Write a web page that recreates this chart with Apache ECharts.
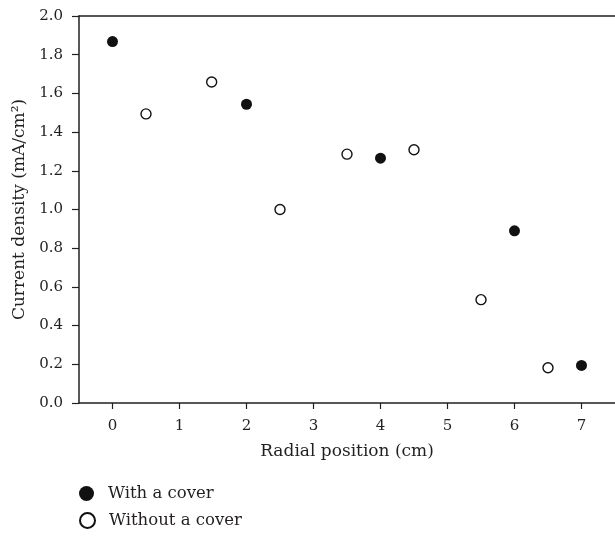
<!DOCTYPE html>
<html>
<head>
<meta charset="utf-8">
<script src="https://cdn.jsdelivr.net/npm/echarts@6/dist/echarts.min.js"></script>
<style>
  html, body { margin: 0; padding: 0; background: #fff; }
  #main { width: 615px; height: 536px; }
</style>
</head>
<body>
<div id="main"></div>
<script>
// data
var withCoverX = [0, 2, 4, 6, 7];
var withCoverY = [1.868, 1.544, 1.265, 0.89, 0.194];
var withoutCoverX = [0.5, 1.48, 2.5, 3.5, 4.5, 5.5, 6.5];
var withoutCoverY = [1.494, 1.659, 1.0, 1.286, 1.309, 0.534, 0.182];
var xTicks = [0, 1, 2, 3, 4, 5, 6, 7];

var ink = '#231f20';
var font = 'DejaVu Serif';

function pairs(xs, ys) {
  var out = [];
  for (var i = 0; i < xs.length; i++) out.push([xs[i], ys[i]]);
  return out;
}

// one legend per row, stacked under the plot
function legendRow(name, top) {
  return {
    left: 79,
    top: top,
    padding: 0,
    itemWidth: 15,
    itemHeight: 15,
    icon: 'circle',
    textStyle: { fontFamily: font, fontSize: 16.5, color: ink, padding: [0, 0, 0, 9] },
    data: [name]
  };
}

var chart = echarts.init(document.getElementById('main'));
chart.setOption({
  animation: false,
  textStyle: { fontFamily: font, color: ink },
  grid: { left: 79, right: -2, top: 16, bottom: 133 },
  legend: [legendRow('With a cover', 485), legendRow('Without a cover', 512)],
  xAxis: [{
    type: 'value',
    min: -0.5,
    max: 7.5,
    name: 'Radial position (cm)',
    nameLocation: 'middle',
    nameGap: 40,
    nameTextStyle: { fontFamily: font, fontSize: 17, color: ink },
    axisLine: { onZero: false, lineStyle: { color: ink, width: 1.5 } },
    axisTick: { show: true, length: 6, customValues: xTicks, lineStyle: { color: ink, width: 1.2 } },
    axisLabel: { customValues: xTicks, margin: 16, fontSize: 15, color: ink, fontFamily: font },
    splitLine: { show: false }
  }, {
    type: 'value',
    position: 'top',
    min: -0.5,
    max: 7.5,
    axisLine: { show: true, onZero: false, lineStyle: { color: ink, width: 1.5 } },
    axisTick: { show: false },
    axisLabel: { show: false },
    splitLine: { show: false }
  }],
  yAxis: {
    type: 'value',
    min: 0,
    max: 2,
    interval: 0.2,
    name: 'Current density (mA/cm\u00b2)',
    nameLocation: 'middle',
    nameGap: 47,
    nameTextStyle: { fontFamily: font, fontSize: 17, color: ink },
    axisLine: { show: true, onZero: false, lineStyle: { color: ink, width: 1.5 } },
    axisTick: { show: true, length: 7, lineStyle: { color: ink, width: 1.2 } },
    axisLabel: {
      margin: 16, fontSize: 15, color: ink, fontFamily: font,
      formatter: function (v) { return v.toFixed(1); }
    },
    splitLine: { show: false }
  },
  series: [{
    name: 'With a cover',
    type: 'scatter',
    symbol: 'circle',
    symbolSize: 11,
    itemStyle: { color: '#111', borderWidth: 0, opacity: 1 },
    data: pairs(withCoverX, withCoverY)
  }, {
    name: 'Without a cover',
    type: 'scatter',
    symbol: 'circle',
    symbolSize: 10,
    itemStyle: { color: '#fff', borderColor: '#111', borderWidth: 1.4, opacity: 1 },
    data: pairs(withoutCoverX, withoutCoverY)
  }]
});
</script>
</body>
</html>
